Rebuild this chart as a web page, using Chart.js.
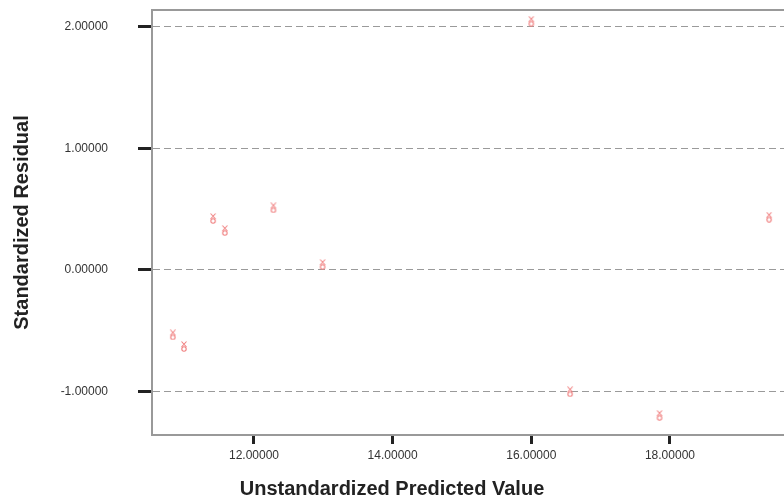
<!DOCTYPE html>
<html>
<head>
<meta charset="utf-8">
<script src="https://cdn.jsdelivr.net/npm/chart.js@4"></script>
<style>
html,body{margin:0;padding:0;background:#fff;overflow:hidden;}
#wrap{width:784px;height:501px;overflow:hidden;}
</style>
</head>
<body>
<div id="wrap"><canvas id="c" width="784" height="501"></canvas></div>
<script>
// ---- data ----
const predicted = [10.83, 10.99, 11.41, 11.58, 12.28, 12.99, 16.00, 16.56, 17.85, 19.43];
const residuals = [-0.535, -0.631, 0.422, 0.323, 0.510, 0.044, 2.044, -1.003, -1.198, 0.433];
const xTickValues = [12, 14, 16, 18];
const xTickLabels = ["12.00000", "14.00000", "16.00000", "18.00000"];
const yTickValues = [-1, 0, 1, 2];
const yTickLabels = ["-1.00000", "0.00000", "1.00000", "2.00000"];
const xTitle = "Unstandardized Predicted Value";
const yTitle = "Standardized Residual";

// marker glyph
const mk = document.createElement('canvas');
mk.width = 8; mk.height = 11;
(function(){
  const g = mk.getContext('2d');
  g.strokeStyle = '#f08080';
  g.lineWidth = 1.1;
  g.beginPath();
  g.moveTo(1.5,0.5); g.lineTo(6.5,6); g.moveTo(6.5,0.5); g.lineTo(1.5,6);
  g.stroke();
  g.beginPath();
  g.arc(4,8,2.2,0,Math.PI*2);
  g.stroke();
})();

// draws the top edge of the plot frame
const topFrame = {
  id: 'topFrame',
  afterDraw(chart) {
    const a = chart.chartArea, c = chart.ctx;
    c.save();
    c.strokeStyle = '#999';
    c.lineWidth = 2;
    c.beginPath();
    c.moveTo(a.left - 1, a.top);
    c.lineTo(a.right, a.top);
    c.stroke();
    c.restore();
  }
};

const ctx = document.getElementById('c').getContext('2d');
new Chart(ctx, {
  type: 'scatter',
  data: {
    datasets: [{
      data: predicted.map((x, i) => ({x: x, y: residuals[i]})),
      pointStyle: mk,
      pointRadius: 5,
      pointHoverRadius: 5
    }]
  },
  plugins: [topFrame],
  options: {
    responsive: false,
    animation: false,
    events: [],
    layout: {autoPadding: false, padding: {top: 10, right: 0, bottom: 0, left: 0}},
    plugins: {
      legend: {display: false},
      tooltip: {enabled: false},
      title: {
        display: true,
        position: 'bottom',
        text: xTitle,
        color: '#222',
        font: {family: '"Liberation Sans", Arial, sans-serif', size: 20, weight: 'bold'},
        padding: {top: 0, bottom: 0}
      }
    },
    scales: {
      x: {
        type: 'linear',
        position: 'bottom',
        min: 10.529,
        max: 19.645,
        afterBuildTicks: (s) => { s.ticks = xTickValues.map(v => ({value: v})); },
        afterFit: (s) => { s.height = 42; s.paddingLeft = 0; s.paddingRight = 0; },
        ticks: {
          autoSkip: false,
          maxRotation: 0,
          padding: 4,
          color: '#333',
          font: {family: '"Liberation Sans", Arial, sans-serif', size: 12},
          callback: (v) => { const i = xTickValues.indexOf(v); return i >= 0 ? xTickLabels[i] : ''; }
        },
        grid: {
          drawOnChartArea: false,
          drawTicks: true,
          tickLength: 9,
          tickWidth: 3,
          tickColor: '#222',
          color: '#999'
        },
        border: {display: true, color: '#999', width: 2}
      },
      y: {
        type: 'linear',
        position: 'left',
        min: -1.359,
        max: 2.137,
        afterBuildTicks: (s) => { s.ticks = yTickValues.map(v => ({value: v})); },
        afterFit: (s) => { s.width = 152; s.paddingTop = 0; s.paddingBottom = 0; },
        title: {
          display: true,
          text: yTitle,
          color: '#222',
          font: {family: '"Liberation Sans", Arial, sans-serif', size: 20, weight: 'bold'},
          padding: {top: 10, bottom: 0}
        },
        ticks: {
          padding: 30,
          color: '#333',
          font: {family: '"Liberation Sans", Arial, sans-serif', size: 12},
          callback: (v) => { const i = yTickValues.indexOf(v); return i >= 0 ? yTickLabels[i] : ''; }
        },
        grid: {
          drawOnChartArea: true,
          drawTicks: true,
          tickLength: 14,
          tickWidth: 3,
          tickColor: '#222',
          tickBorderDash: [],
          color: '#9a9a9a',
          lineWidth: 1
        },
        border: {display: true, color: '#999', width: 2, dash: [7, 4]}
      }
    }
  }
});
</script>
</body>
</html>
